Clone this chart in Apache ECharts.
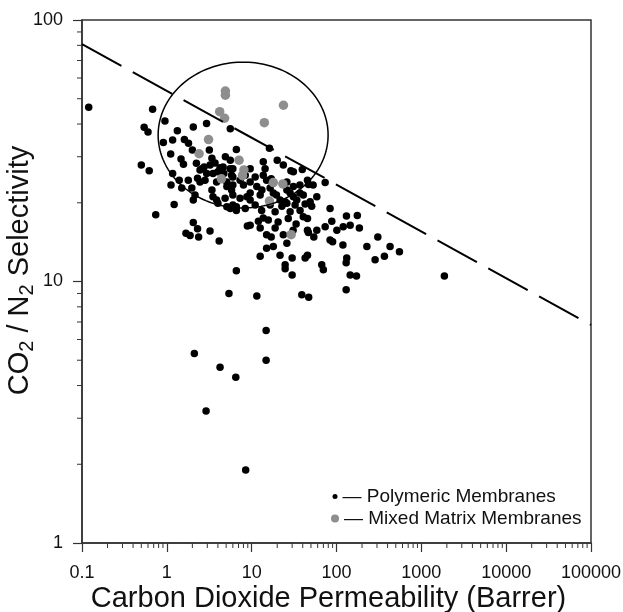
<!DOCTYPE html>
<html>
<head>
<meta charset="utf-8">
<script src="https://cdn.jsdelivr.net/npm/echarts@6/dist/echarts.min.js"></script>
<style>html,body{margin:0;padding:0;background:#fff;}#c{width:623px;height:612px;}</style>
</head>
<body>
<div id="c"></div>
<script>
// ---- data ----
const polymericPoints = [[0.12,46.4],[0.68,45.6],[0.54,38.9],[0.60,37.3],[0.95,41.1],[1.33,37.7],[2.05,39.0],[2.94,40.2],[5.6,38.4],[0.91,34.0],[1.17,34.8],[1.61,34.9],[1.80,33.8],[2.0,31.8],[1.11,30.7],[1.47,29.4],[1.57,28.1],[0.50,27.9],[0.62,26.5],[1.17,25.9],[1.40,24.4],[1.79,24.4],[1.12,23.4],[1.50,22.8],[1.97,22.8],[2.15,21.4],[1.22,19.7],[0.74,18.0],[2.05,16.8],[2.30,15.9],[1.68,15.3],[1.88,15.0],[2.37,14.8],[3.23,15.6],[4.14,14.3],[8.9,16.3],[6.6,11.0],[5.4,9.0],[11.5,8.8],[39,8.9],[47,8.7],[14.8,6.5],[14.8,5.0],[2.11,5.3],[4.24,4.7],[6.5,4.3],[2.9,3.2],[8.5,1.9],[1870,10.5],[145,10.6],[172,10.5],[130,9.3],[30,10.6],[24.8,11.6],[24.8,11.2],[67,11.6],[70,11.1],[132,12.3],[130,11.8],[45.5,12.6],[42.7,12.3],[12.6,12.5],[21.6,12.6],[30,12.3],[15,13.4],[18,13.6],[26,14.0],[15,15.1],[17,14.8],[23.6,15.1],[119,13.8],[90,14.2],[84,14.4],[228,13.6],[428,13.6],[552,13.0],[367,12.5],[285,12.1],[307,14.8],[186,16.0],[176,17.9],[131,17.8],[84,19.0],[73.5,23.9],[58.6,21.1],[46.8,23.5],[39.5,26.8],[42.7,19.8],[51,19.4],[40.6,17.7],[45.5,17.4],[73.5,16.2],[88,17.0],[101,15.7],[120,16.2],[145,16.4],[58.6,15.7],[46.6,15.4],[54,14.8],[45.5,15.7],[16.2,32.3],[3.17,31.8],[6.6,32.0],[3.4,29.6],[3.7,28.4],[4.9,30.0],[5.6,29.1],[13.7,28.7],[20,29.1],[23.6,27.9],[29,26.5],[31,26.3],[2.6,27.0],[2.95,25.9],[4.24,27.2],[4.7,25.9],[6.0,27.0],[5.8,25.5],[9.6,27.0],[11,25.1],[13.7,25.5],[15,24.4],[17,24.7],[3.4,22.4],[2.46,24.0],[2.82,24.4],[5.1,23.1],[5.8,22.4],[6.0,21.4],[8.0,23.4],[9.6,21.8],[11.5,23.1],[13.2,22.4],[26,22.4],[31,21.1],[37,21.8],[21.6,20.5],[24.8,20.2],[3.86,20.5],[4.86,20.8],[7.3,20.8],[9.6,20.5],[5.1,19.3],[6.6,19.3],[6.6,18.7],[9.6,16.4],[12,17.0],[13.7,17.5],[11,19.6],[13.1,18.7],[16.5,19.6],[18.9,18.5],[22.7,19.4],[28.4,18.5],[32.5,19.6],[15.7,17.2],[20.5,16.9],[27,17.4],[33.4,16.6],[30.8,15.7],[37.2,18.7],[12.6,16.0],[18.9,16.0],[3.5,21.1],[4.0,19.9],[6.0,19.6],[8.8,21.1],[5.6,19.0],[8.4,19.0],[2.23,28.3],[2.46,26.7],[2.75,27.4],[3.23,27.9],[3.5,25.9],[4.0,26.3],[4.6,27.4],[5.56,27.0],[6.0,25.1],[3.86,24.0],[5.1,24.0],[6.0,23.4],[26,24.0],[31,23.1],[37,23.4],[45.5,24.4],[53,23.4],[28.4,21.8],[34,20.5],[40.6,21.4],[48.9,20.2],[18,21.8],[26,19.9],[2.3,24.8],[2.05,20.5],[8.4,25.5],[7.3,24.4],[16.5,22.8],[19.6,21.4],[12.6,21.4],[9.6,24.0],[14.4,27.0]];
const mixedPoints = [[4.9,53.5],[4.9,51.6],[4.2,44.6],[4.8,42.1],[23.7,47.2],[14.1,40.5],[3.1,34.9],[2.4,30.8],[7.1,29.1],[8.1,26.7],[7.8,25.4],[4.4,24.7],[18.0,23.9],[23.3,23.6],[16.2,20.3],[29.2,15.1]];
const boundX = [0.1, 100000];
const boundY = [80.8, 6.82];
const ellipseX = [0.79, 79.6];
const ellipseY = [19.1, 69];
const xTicks = [0.1, 1, 10, 100, 1000, 10000, 100000];
const yTicks = [1, 10, 100];
const seriesNames = ['Polymeric Membranes', 'Mixed Matrix Membranes'];

// minor tick positions (2..9 per decade)
function minorBetween(lo, hi) {
  const out = [];
  for (let d = lo; d < hi; d *= 10) for (let k = 2; k <= 9; k++) out.push(+(d * k).toPrecision(3));
  return out;
}
const xMinor = minorBetween(xTicks[0], xTicks[xTicks.length - 1]);
const yMinor = minorBetween(yTicks[0], yTicks[yTicks.length - 1]);

const FONT = '"Liberation Sans", Arial, sans-serif';
const chart = echarts.init(document.getElementById('c'), null, {renderer: 'canvas'});
const fmt = v => (v >= 1 ? String(Math.round(v)) : String(+v.toPrecision(3)));

chart.setOption({
  backgroundColor: '#ffffff',
  animation: false,
  grid: {left: 82, right: 32, top: 20, bottom: 69, show: true, borderColor: '#333', borderWidth: 1.5,
         containLabel: false, outerBoundsMode: 'none'},
  xAxis: {
    type: 'log', logBase: 10, min: xTicks[0], max: xTicks[xTicks.length - 1],
    name: 'Carbon Dioxide Permeability (Barrer)', nameLocation: 'middle', nameGap: 41, nameMoveOverlap: false,
    nameTextStyle: {fontSize: 29, color: '#111', fontFamily: FONT, padding: [0, 16, 0, 0]},
    axisLine: {lineStyle: {color: '#333', width: 1.5}},
    axisTick: {show: true, inside: false, length: 9, lineStyle: {color: '#333', width: 1.2}},
    axisLabel: {fontSize: 18, color: '#111', fontFamily: FONT, margin: 21, formatter: fmt},
    splitLine: {show: false}, minorTick: {show: false}
  },
  yAxis: {
    type: 'log', logBase: 10, min: yTicks[0], max: yTicks[yTicks.length - 1],
    name: 'CO{sub|2} / N{sub|2} Selectivity', nameLocation: 'middle', nameGap: 45, nameMoveOverlap: false,
    nameTextStyle: {fontSize: 29, color: '#111', fontFamily: FONT, lineHeight: 34, padding: [0, 0, 0, 22],
      rich: {sub: {fontSize: 20, lineHeight: 20, verticalAlign: 'bottom', color: '#111', fontFamily: FONT}}},
    axisLine: {lineStyle: {color: '#333', width: 1.5}},
    axisTick: {show: true, inside: false, length: 9, lineStyle: {color: '#333', width: 1.2}},
    axisLabel: {fontSize: 18, color: '#111', fontFamily: FONT, margin: 19, formatter: fmt},
    splitLine: {show: false}, minorTick: {show: false}
  },
  legend: [
    {data: [seriesNames[0]], left: 332.5, top: 487, orient: 'vertical', itemWidth: 5, itemHeight: 5,
     icon: 'circle', selectedMode: false, padding: 0,
     formatter: n => '\u2014 ' + n, textStyle: {fontSize: 19, color: '#111', fontFamily: FONT}},
    {data: [seriesNames[1]], left: 331, top: 509, orient: 'vertical', itemWidth: 8, itemHeight: 8,
     icon: 'circle', selectedMode: false, padding: 0,
     formatter: n => '\u2014 ' + n, textStyle: {fontSize: 19, color: '#111', fontFamily: FONT}}
  ],
  series: [
    {name: seriesNames[0], type: 'scatter', data: polymericPoints, symbol: 'circle', symbolSize: 7.5,
     itemStyle: {color: '#000', opacity: 1}, z: 2, silent: true},
    {name: seriesNames[1], type: 'scatter', data: mixedPoints, symbol: 'circle', symbolSize: 9.5,
     itemStyle: {color: '#8e8e8e', opacity: 1}, z: 3, silent: true},
    {name: 'bound', type: 'line', data: boundX.map((x, i) => [x, boundY[i]]), symbol: 'none',
     lineStyle: {color: '#000', width: 2, type: [45, 13]}, z: 4, silent: true},
    {name: 'ellipse', type: 'custom', silent: true, z: 4,
     data: [[ellipseX[0], ellipseY[0], ellipseX[1], ellipseY[1]]],
     encode: {x: [0, 2], y: [1, 3]},
     renderItem: function (params, api) {
       const p0 = api.coord([api.value(0), api.value(1)]);
       const p1 = api.coord([api.value(2), api.value(3)]);
       const cx = (p0[0] + p1[0]) / 2, cy = (p0[1] + p1[1]) / 2;
       const rx = Math.abs(p1[0] - p0[0]) / 2, ry = Math.abs(p1[1] - p0[1]) / 2;
       const pts = [];
       for (let i = 0; i < 180; i++) { const t = i / 180 * Math.PI * 2; pts.push([cx + rx * Math.cos(t), cy + ry * Math.sin(t)]); }
       return {type: 'polygon', shape: {points: pts}, style: {fill: 'none', stroke: '#000', lineWidth: 1.5}};
     }},
    {name: 'xMinor', type: 'custom', silent: true, z: 5, clip: false,
     data: xMinor.map(v => [v, yTicks[0]]),
     renderItem: function (params, api) {
       const p = api.coord([api.value(0), api.value(1)]);
       return {type: 'line', shape: {x1: p[0], y1: p[1], x2: p[0], y2: p[1] + 5}, style: {stroke: '#333', lineWidth: 1}};
     }},
    {name: 'yMinor', type: 'custom', silent: true, z: 5, clip: false,
     data: yMinor.map(v => [xTicks[0], v]),
     renderItem: function (params, api) {
       const p = api.coord([api.value(0), api.value(1)]);
       return {type: 'line', shape: {x1: p[0] - 5, y1: p[1], x2: p[0], y2: p[1]}, style: {stroke: '#333', lineWidth: 1}};
     }}
  ]
});
</script>
</body>
</html>
